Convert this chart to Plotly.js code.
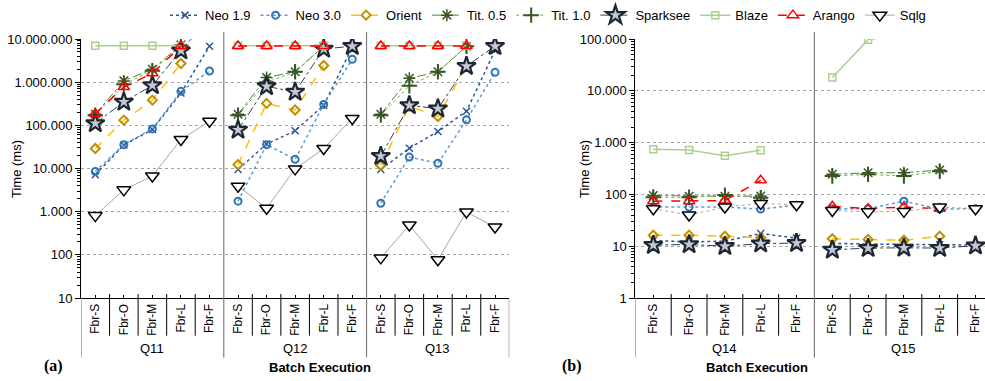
<!DOCTYPE html>
<html><head><meta charset="utf-8">
<script src="https://cdn.plot.ly/plotly-3.0.1.min.js"></script>
<style>html,body{margin:0;padding:0;background:#fff}#chart{width:985px;height:381px}</style>
</head><body><div id="chart"></div>
<script>
// ---------- categories / labels ----------
const categories = ['Fbr-S','Fbr-O','Fbr-M','Fbr-L','Fbr-F'];
const groupsA = ['Q11','Q12','Q13'];
const groupsB = ['Q14','Q15'];
const seriesNames = ['Neo 1.9','Neo 3.0','Orient','Tit. 0.5','Tit. 1.0','Sparksee','Blaze','Arango','Sqlg'];
const tickValsA = [10,100,1000,10000,100000,1000000,10000000];
const tickTextA = ['10','100','1.000','10.000','100.000','1.000.000','10.000.000'];
const tickValsB = [1,10,100,1000,10000,100000];
const tickTextB = ['1','10','100','1.000','10.000','100.000'];

// ---------- panel (a): Q11 | Q12 | Q13, five categories each ----------
const neo19A    = [7200, 35000, 80000, 560000, 6800000,   9500, 37000, 75000, 290000, 6500000,   9500, 29500, 72000, 212000, 5400000];
const neo30A    = [8500, 35700, 82600, 614000, 1810000,   1750, 35700, 16300, 305000, 3400000,   1570, 18400, 13200, 134000, 1690000];
const orientA   = [29000, 132000, 383000, 2700000, null,  12300, 322000, 227000, 2430000, null,  11700, 280000, 160000, 2350000, null];
const tit05A    = [180000, 1070000, 2000000, 7300000, null, 181000, 1280000, 1740000, 6800000, null, 181000, 1230000, 1740000, 6800000, null];
const tit10A    = [172000, 900000, 1850000, 7000000, null, 172000, 1000000, 1740000, 6800000, null, 172000, 826000, 1740000, 6800000, null];
const sparkseeA = [111000, 350000, 840000, 5400000, 30000000, 78000, 800000, 593000, 5900000, 6800000, 19400, 290000, 243000, 2350000, 6800000];
const blazeA    = [7000000, 7000000, 7000000, 7000000, null, 7000000, 7000000, 7000000, 7000000, null, 7000000, 7000000, 7000000, 7000000, null];
const arangoA   = [186000, 770000, 1600000, 6800000, null, 6900000, 6900000, 6900000, 6900000, null, 6900000, 6900000, 6900000, 6900000, null];
const sqlgA     = [810, 3200, 6700, 47000, 124000,   3900, 1200, 9800, 29000, 144000,   85, 490, 77, 980, 440];

// ---------- panel (b): Q14 | Q15 ----------
const neo19B    = [12.9, 12.1, 12.5, 17.6, 14.3,   11.3, 10.9, 10.8, 10.7, 10.5];
const neo30B    = [57, 57, 57, 52, 62,   53, 53, 74, 52, 53];
const orientB   = [16.3, 16.3, 15.6, 14.5, null,   13.9, 13.5, 13, 15.6, null];
const tit05B    = [95, 92, 92, 93, null,   244, 262, 262, 296, null];
const tit10B    = [88, 88, 97, 86, null,   226, 244, 226, 280, null];
const sparkseeB = [10.5, 10.8, 10.0, 11.2, 11.5,   8.5, 9.2, 9.3, 9.2, 10.2];
const blazeB    = [743, 722, 560, 711, null,   18100, 97000, 125000, 130000, null];
const arangoB   = [74, 74, 76, 187, null,   59, 53, 57, 53, null];
const sqlgB     = [53, 40, 57, 67, 63,   49, 46, 47, 57, 53];

const valuesA = [neo19A, neo30A, orientA, tit05A, tit10A, sparkseeA, blazeA, arangoA, sqlgA];
const valuesB = [neo19B, neo30B, orientB, tit05B, tit10B, sparkseeB, blazeB, arangoB, sqlgB];

// ---------- styles ----------
const styles = [
  {line:{color:'#2F5597',width:1.5,dash:'dot'}, marker:{symbol:'x-thin-open',size:7,color:'#2F5597',line:{color:'#2F5597',width:1.5}}},
  {line:{color:'#5B9BD5',width:1.5,dash:'dot'}, marker:{symbol:'circle-open',size:7,color:'#2E75B6',line:{color:'#2E75B6',width:2}}},
  {line:{color:'#FFC000',width:1.5,dash:'dash'}, marker:{symbol:'diamond-open',size:7,color:'#BF9000',line:{color:'#BF9000',width:2}}},
  {line:{color:'#548235',width:1,dash:'dashdot'}, marker:{symbol:'asterisk-open',size:10,color:'#375623',line:{color:'#375623',width:1.5}}},
  {line:{color:'#70AD47',width:1,dash:'dot'}, marker:{symbol:'cross-thin-open',size:11,color:'#375623',line:{color:'#375623',width:2}}},
  {line:{color:'#333F50',width:1,dash:'dashdot'}, marker:{symbol:'star',size:14,color:'#C3CAD4',line:{color:'#1F2733',width:2.2}}},
  {line:{color:'#A9D18E',width:1.5,dash:'solid'}, marker:{symbol:'square-open',size:7,color:'#A9D18E',line:{color:'#A9D18E',width:1.5}}},
  {line:{color:'#FF0000',width:1.5,dash:'dash'}, marker:{symbol:'triangle-up-open',size:10,color:'#FF0000',line:{color:'#FF0000',width:1.5}}},
  {line:{color:'#A6A6A6',width:1,dash:'solid'}, marker:{symbol:'triangle-down',size:12,color:'#FFFFFF',line:{color:'#000000',width:1.5}}}
];

function gapped(vals, nGroups){
  const x=[], y=[];
  for(let g=0; g<nGroups; g++){
    for(let i=0;i<categories.length;i++){ x.push(g*categories.length+i); y.push(vals[g*categories.length+i]); }
    if(g<nGroups-1){ x.push(g*categories.length+categories.length-0.5); y.push(null); }
  }
  return {x,y};
}

const data = [];
seriesNames.forEach((name,k)=>{
  const a = gapped(valuesA[k], groupsA.length);
  data.push({type:'scatter', mode:'lines+markers', name:name, legendgroup:name, showlegend:true,
    x:a.x, y:a.y, xaxis:'x', yaxis:'y', line:styles[k].line, marker:styles[k].marker, cliponaxis:true});
});
seriesNames.forEach((name,k)=>{
  const b = gapped(valuesB[k], groupsB.length);
  const ln = Object.assign({}, styles[k].line);
  if(name==='Sqlg') ln.dash='dot';
  data.push({type:'scatter', mode:'lines+markers', name:name, legendgroup:name, showlegend:false,
    x:b.x, y:b.y, xaxis:'x2', yaxis:'y2', line:ln, marker:styles[k].marker, cliponaxis:true});
});

// ---------- layout helpers ----------
const FONT = 'Liberation Sans, Arial, sans-serif';
const plotH = 261;
const pY = px => (298 - px) / plotH;
const pX = px => (px - 81) / 904;

const shapes = [], annotations = [];
function addSeparators(xref, nGroups){
  const n = nGroups*categories.length;
  for(let i=0;i<n;i++){
    const xb = i+0.5;
    const isGroupEnd = (i % categories.length) === categories.length-1;
    if(isGroupEnd){
      if(i < n-1){
        shapes.push({type:'line', xref:xref, yref:'paper', x0:xb, x1:xb, y0:pY(358), y1:pY(30), line:{color:'#7F7F7F',width:1.2}});
      } else {
        shapes.push({type:'line', xref:xref, yref:'paper', x0:xb, x1:xb, y0:pY(358), y1:0, line:{color:'#7F7F7F',width:1.2}});
      }
    } else {
      shapes.push({type:'line', xref:xref, yref:'paper', x0:xb, x1:xb, y0:pY(336), y1:pY(294), line:{color:'#000',width:1}});
    }
  }
  shapes.push({type:'line', xref:xref, yref:'paper', x0:-0.5, x1:-0.5, y0:pY(358), y1:0, line:{color:'#7F7F7F',width:1.2}});
}
addSeparators('x', groupsA.length);
addSeparators('x2', groupsB.length);

groupsA.forEach((g,i)=>annotations.push({xref:'x', yref:'paper', x:i*5+2, y:pY(349), text:g, showarrow:false, font:{family:FONT,size:13,color:'#000'}, yanchor:'middle'}));
groupsB.forEach((g,i)=>annotations.push({xref:'x2', yref:'paper', x:i*5+2, y:pY(349), text:g, showarrow:false, font:{family:FONT,size:13,color:'#000'}, yanchor:'middle'}));
annotations.push({xref:'paper', yref:'paper', x:pX(267), y:pY(368), text:'<b>Batch Execution</b>', showarrow:false, font:{family:FONT,size:13,color:'#000'}, yanchor:'middle'});
annotations.push({xref:'paper', yref:'paper', x:pX(810), y:pY(368), text:'<b>Batch Execution</b>', showarrow:false, font:{family:FONT,size:13,color:'#000'}, yanchor:'middle'});
annotations.push({xref:'paper', yref:'paper', x:pX(42), y:pY(367), text:'<b>(a)</b>', showarrow:false, font:{family:'Liberation Serif, Times New Roman, serif',size:16,color:'#000'}, yanchor:'middle'});
annotations.push({xref:'paper', yref:'paper', x:pX(572), y:pY(367), text:'<b>(b)</b>', showarrow:false, font:{family:'Liberation Serif, Times New Roman, serif',size:16,color:'#000'}, yanchor:'middle'});
annotations.push({xref:'paper', yref:'paper', x:pX(17), y:pY(168), text:'Time (ms)', textangle:-90, showarrow:false, font:{family:FONT,size:13,color:'#000'}, xanchor:'center', yanchor:'middle'});
annotations.push({xref:'paper', yref:'paper', x:pX(585), y:pY(168), text:'Time (ms)', textangle:-90, showarrow:false, font:{family:FONT,size:13,color:'#000'}, xanchor:'center', yanchor:'middle'});

function xAxis(domain, nGroups, range){
  const n = nGroups*categories.length;
  const tv=[], tt=[];
  for(let i=0;i<n;i++){ tv.push(i); tt.push(categories[i%categories.length]); }
  return {domain:domain, range:range, tickmode:'array', tickvals:tv, ticktext:tt, tickangle:-90,
    ticks:'inside', ticklen:3, tickcolor:'#000', showline:true, linecolor:'#000', linewidth:1,
    showgrid:false, zeroline:false, tickfont:{family:FONT,size:12,color:'#000'}, fixedrange:true};
}
function yAxis(range, tv, tt, anchor){
  return {type:'log', range:range, tickmode:'array', tickvals:tv, ticktext:tt, anchor:anchor,
    ticks:'outside', ticklen:5, tickcolor:'#000', showline:true, linecolor:'#000', linewidth:1,
    showgrid:true, gridcolor:'#A6A6A6', griddash:'dot', gridwidth:1, zeroline:false,
    minor:{ticks:'outside', ticklen:3, tickcolor:'#000', dtick:'D1', showgrid:false},
    tickfont:{family:FONT,size:13,color:'#000'}, fixedrange:true};
}

const layout = {
  width:985, height:381,
  margin:{l:81, r:0, t:37, b:83, pad:0},
  paper_bgcolor:'#fff', plot_bgcolor:'#fff',
  font:{family:FONT, color:'#000'},
  showlegend:true,
  legend:{orientation:'h', x:pX(548), xanchor:'center', y:pY(13), yanchor:'middle',
    font:{family:FONT,size:13,color:'#000'}, itemwidth:30, tracegroupgap:0, bgcolor:'rgba(0,0,0,0)'},
  xaxis: xAxis([0, pX(509.3)], groupsA.length, [-0.5, 14.5]),
  yaxis: yAxis([1,7], tickValsA, tickTextA, 'x'),
  xaxis2: xAxis([pX(635.4), 1], groupsB.length, [-0.5, 9.265]),
  yaxis2: yAxis([0,5], tickValsB, tickTextB, 'x2'),
  shapes: shapes,
  annotations: annotations
};
layout.xaxis.anchor='y';
layout.xaxis2.anchor='y2';

Plotly.newPlot('chart', data, layout, {displayModeBar:false, staticPlot:true});
</script>
</body></html>
